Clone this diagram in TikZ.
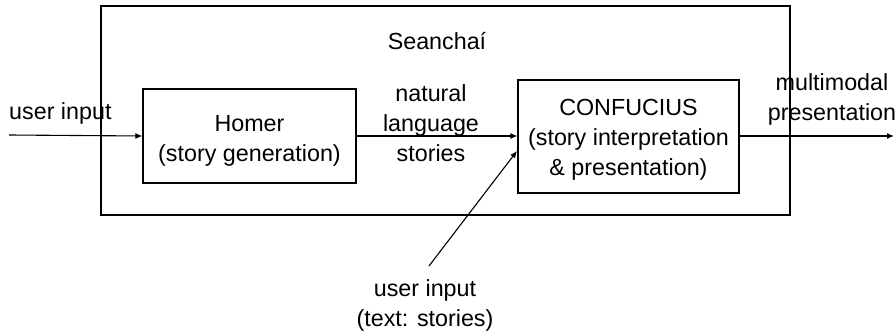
\documentclass[tikz,border=0pt]{standalone}
\usepackage{fontspec}
\setmainfont{Liberation Sans}
\usetikzlibrary{arrows.meta}
\begin{document}
\begin{tikzpicture}[x=1pt,y=-1pt,
  box/.style={draw,line width=1.2pt},
  lbl/.style={font=\fontsize{23.3}{30}\selectfont,align=center,inner sep=0pt},
  arr/.style={line width=1.1pt,-{Latex[length=7pt,width=6pt]}}]
\useasboundingbox (0,0) rectangle (895,331);
\node[box,minimum width=689pt,minimum height=209pt,inner sep=0pt] (outer) at (445.5,110.5) {};
\node[box,minimum width=213pt,minimum height=94pt,inner sep=0pt] (homer) at (249.5,136) {};
\node[lbl] (homert) at (249.5,141) {Homer\\(story generation)};
\node[box,minimum width=221pt,minimum height=113pt,inner sep=0pt] (conf) at (628.5,136.5) {};
\node[lbl] (conft) at (628.5,140) {CONFUCIUS\\(story interpretation\\\& presentation)};
\node[lbl] (sean) at (437,41) {Seanchaí};
\node[lbl,anchor=west] (uin) at (9,113) {user input};
\node[lbl] (nls) at (431,123) {natural\\language\\stories};
\node[lbl] (mm) at (832,99) {multimodal\\presentation};
\node[lbl] (uin2) at (425,305) {user input\\(text: stories)};
\coordinate (start) at (9,135);
\coordinate (out) at (894,136);
\coordinate (diag) at (429,266);
\draw[arr] (start) -- (homer.west);
\draw[arr] (homer.east) -- (conf.west |- homer.east);
\draw[arr] (conf.east |- out) -- (out);
\draw[arr] (diag) -- (517,151);
\end{tikzpicture}
\end{document}
